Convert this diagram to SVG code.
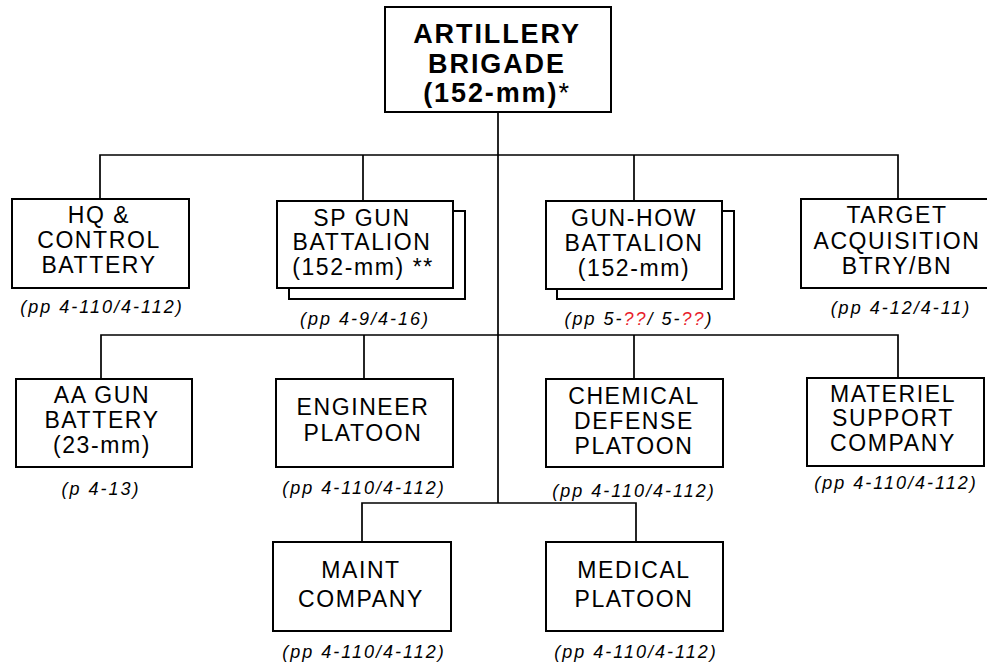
<svg xmlns="http://www.w3.org/2000/svg" width="987" height="662" viewBox="0 0 987 662">
<style>
.box{fill:#fff;stroke:#000;stroke-width:2}
.ln{fill:none;stroke:#000;stroke-width:1.7}
.t{font-family:"Liberation Sans",Arial,sans-serif;font-size:23px;letter-spacing:1.6px;text-anchor:middle;fill:#000}
.tb{font-family:"Liberation Sans",Arial,sans-serif;font-size:27px;font-weight:bold;letter-spacing:1.9px;text-anchor:middle;fill:#000}
.r{font-family:"Liberation Sans",Arial,sans-serif;font-size:18px;font-style:italic;letter-spacing:2px;text-anchor:middle;fill:#000}
.red{fill:#e8202a}
</style>
<rect width="987" height="662" fill="#fff"/>
<g id="connectors">
<path class="ln" d="M498 112V503"/>
<path class="ln" d="M100 199V155H898V199M363 155V201M634 155V201"/>
<path class="ln" d="M101 379V335H898V378M364 335V379M634 335V379"/>
<path class="ln" d="M362 542V503H636V542"/>
</g>
<g id="artillery-brigade">
<rect class="box" x="385" y="7" width="226" height="105"/>
<text class="tb" x="497" y="43">ARTILLERY</text>
<text class="tb" x="497" y="73">BRIGADE</text>
<text class="tb" x="497" y="102">(152-mm)<tspan font-weight="normal">*</tspan></text>
</g>
<g id="hq-control-battery">
<rect class="box" x="12" y="199" width="177" height="89"/>
<text class="t" x="99" y="223">HQ &amp;</text>
<text class="t" x="99" y="248">CONTROL</text>
<text class="t" x="99" y="273">BATTERY</text>
<text class="r" x="102" y="313">(pp 4-110/4-112)</text>
</g>
<g id="sp-gun-battalion">
<rect class="box" x="289" y="211" width="176" height="88"/>
<rect class="box" x="277" y="201" width="176" height="87"/>
<text class="t" x="362" y="225.5">SP GUN</text>
<text class="t" x="362" y="250">BATTALION</text>
<text class="t" x="363" y="274.5">(152-mm) **</text>
<text class="r" x="365" y="325">(pp 4-9/4-16)</text>
</g>
<g id="gun-how-battalion">
<rect class="box" x="557" y="211" width="177" height="88"/>
<rect class="box" x="546" y="201" width="176" height="88"/>
<text class="t" x="634" y="225.5">GUN-HOW</text>
<text class="t" x="634" y="251">BATTALION</text>
<text class="t" x="634" y="276">(152-mm)</text>
<text class="r" x="639" y="325">(pp 5-<tspan class="red">??</tspan>/ 5-<tspan class="red">??</tspan>)</text>
</g>
<g id="target-acquisition">
<rect class="box" x="801" y="199" width="190" height="89"/>
<text class="t" x="897" y="223">TARGET</text>
<text class="t" x="897" y="249">ACQUISITION</text>
<text class="t" x="897" y="274">BTRY/BN</text>
<text class="r" x="901" y="314">(pp 4-12/4-11)</text>
</g>
<g id="aa-gun-battery">
<rect class="box" x="16" y="379" width="176" height="88"/>
<text class="t" x="102" y="403">AA GUN</text>
<text class="t" x="102" y="428">BATTERY</text>
<text class="t" x="102" y="453">(23-mm)</text>
<text class="r" x="101" y="495">(p 4-13)</text>
</g>
<g id="engineer-platoon">
<rect class="box" x="276" y="379" width="177" height="88"/>
<text class="t" x="363" y="415">ENGINEER</text>
<text class="t" x="363" y="441">PLATOON</text>
<text class="r" x="364" y="494">(pp 4-110/4-112)</text>
</g>
<g id="chemical-defense-platoon">
<rect class="box" x="546" y="379" width="177" height="88"/>
<text class="t" x="634" y="403.5">CHEMICAL</text>
<text class="t" x="634" y="429">DEFENSE</text>
<text class="t" x="634" y="454">PLATOON</text>
<text class="r" x="634" y="497">(pp 4-110/4-112)</text>
</g>
<g id="materiel-support-company">
<rect class="box" x="807" y="378" width="177" height="88"/>
<text class="t" x="893" y="401.5">MATERIEL</text>
<text class="t" x="893" y="426">SUPPORT</text>
<text class="t" x="893" y="451">COMPANY</text>
<text class="r" x="896" y="489">(pp 4-110/4-112)</text>
</g>
<g id="maint-company">
<rect class="box" x="273" y="542" width="178" height="89"/>
<text class="t" x="361" y="578">MAINT</text>
<text class="t" x="361" y="607">COMPANY</text>
<text class="r" x="364" y="658">(pp 4-110/4-112)</text>
</g>
<g id="medical-platoon">
<rect class="box" x="546" y="542" width="177" height="89"/>
<text class="t" x="634" y="578">MEDICAL</text>
<text class="t" x="634" y="607">PLATOON</text>
<text class="r" x="636" y="658">(pp 4-110/4-112)</text>
</g>
</svg>
